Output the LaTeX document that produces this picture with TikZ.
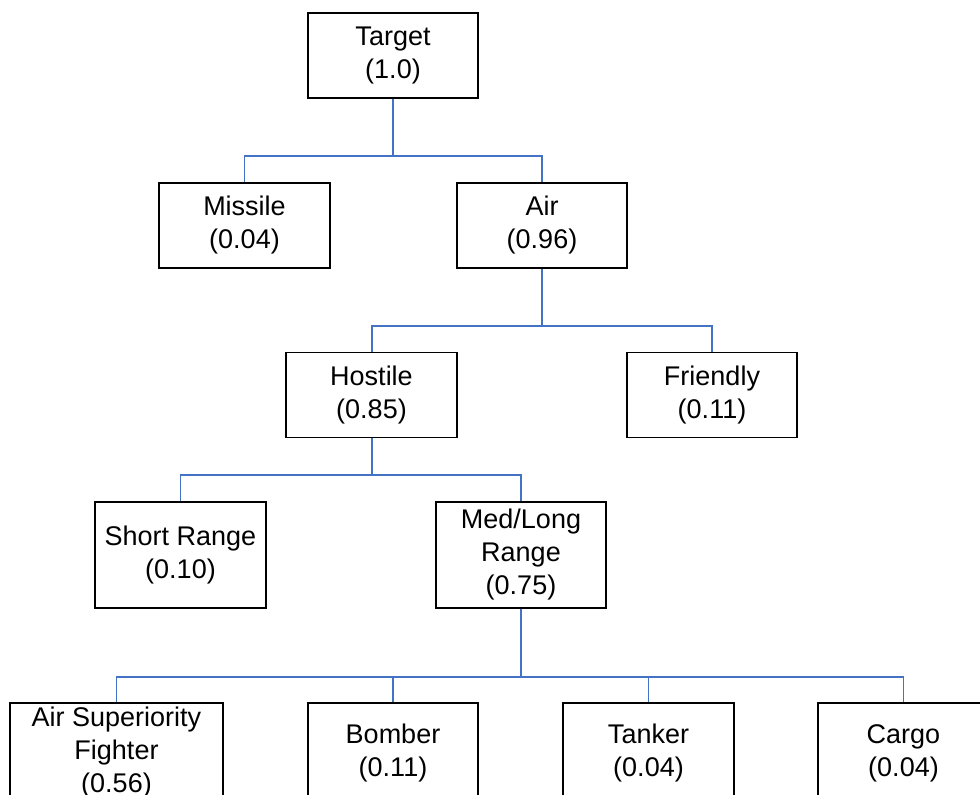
\documentclass[tikz,border=0pt]{standalone}
\usepackage{fontspec}
\setmainfont{Liberation Sans}
\definecolor{linkblue}{HTML}{4472C4}
\tikzset{
  box/.style={draw=black, line width=1.5pt, fill=white, rectangle, align=center,
    minimum width=170pt, minimum height=85pt, inner sep=0pt,
    font=\fontsize{27}{33}\selectfont},
  tallbox/.style={box, minimum height=106pt},
  lowbox/.style={box, minimum height=100pt},
  link/.style={draw=linkblue, line width=1.5pt}
}
\begin{document}
\begin{tikzpicture}[x=1pt,y=-1pt]
\useasboundingbox (0,0) rectangle (980,795);
\clip (0,0) rectangle (980,795);
% connectors first
\coordinate (j1) at (393,156);
\coordinate (j2) at (542,326);
\coordinate (j3) at (372,475);
\coordinate (j4) at (521,677);
% nodes
\node[box] (target) at (393,55.5) {Target\\(1.0)};
\node[box, minimum width=171pt] (missile) at (244.5,225.5) {Missile\\(0.04)};
\node[box] (air) at (542,225.5) {Air\\(0.96)};
\node[box, minimum width=171pt] (hostile) at (371.5,395) {Hostile\\(0.85)};
\node[box] (friendly) at (712,395) {Friendly\\(0.11)};
\node[tallbox, minimum width=171pt] (short) at (180.5,555) {Short Range\\(0.10)};
\node[tallbox] (medlong) at (521,555) {Med/Long\\Range\\(0.75)};
\node[lowbox, minimum width=213pt] (asf) at (116.5,753) {Air Superiority\\Fighter\\(0.56)};
\node[lowbox] (bomber) at (393,753) {Bomber\\(0.11)};
\node[lowbox, minimum width=171pt] (tanker) at (648.5,753) {Tanker\\(0.04)};
\node[lowbox, minimum width=171pt] (cargo) at (903.5,753) {Cargo\\(0.04)};
% links
\draw[link] (target.south) -- (j1) -| (missile.north);
\draw[link] (j1) -| (air.north);
\draw[link] (air.south) -- (j2) -| (hostile.north -| j3);
\draw[link] (j2) -| (friendly.north);
\draw[link] (hostile.south -| j3) -- (j3) -| (short.north);
\draw[link] (j3) -| (medlong.north);
\draw[link] (medlong.south) -- (j4) -| (asf.north);
\draw[link] (j4) -| (bomber.north);
\draw[link] (j4) -| (tanker.north);
\draw[link] (j4) -| (cargo.north);
\end{tikzpicture}
\end{document}
